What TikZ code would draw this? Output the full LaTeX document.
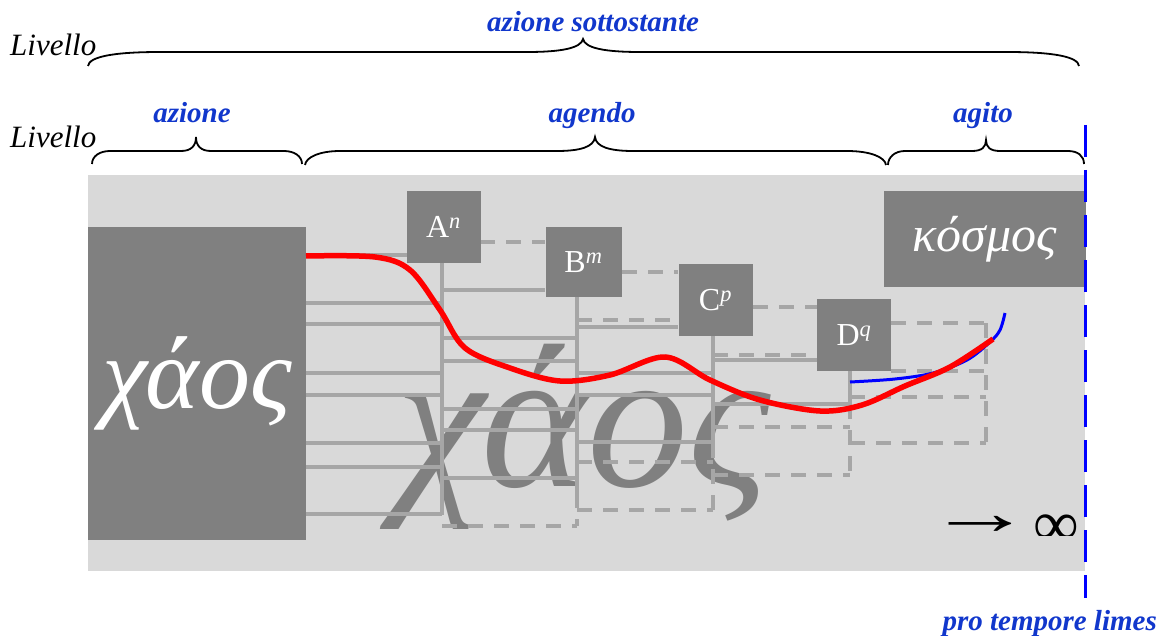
\documentclass[tikz,border=0pt]{standalone}
\usepackage{fontspec}
\setmainfont{Liberation Serif}
\definecolor{bggray}{RGB}{217,217,217}
\definecolor{boxgray}{RGB}{128,128,128}
\definecolor{linegray}{RGB}{166,166,166}
\definecolor{lblue}{RGB}{17,55,204}
\definecolor{pureblue}{RGB}{0,0,255}
\definecolor{purered}{RGB}{255,0,0}
\begin{document}
\begin{tikzpicture}[x=1pt,y=-1pt,
  gbox/.style={fill=boxgray,text=white,inner sep=0pt},
  gl/.style={draw=linegray,line width=3.5pt},
  gd/.style={gl,dash pattern=on 15pt off 11pt},
  lbl/.style={text=lblue,font=\fontsize{29}{34}\selectfont\bfseries\itshape,inner sep=0pt},
  livello/.style={font=\fontsize{31}{34}\selectfont\itshape,inner sep=0pt,anchor=base west},
  bracepath/.style={draw=black,line width=1.8pt},
  boxlbl/.style={font=\fontsize{32}{36}\selectfont}
]
\useasboundingbox (0,0) rectangle (1158,636);
\fill[bggray] (88,175) rectangle (1085,571);
\node[text=boxgray,font=\fontsize{202}{210}\selectfont\itshape,anchor=base,inner sep=0pt] (bigchaos) at (583,486) {χάος};
% bundle 1
\draw[gl] (306,255) -- (407,255);
\foreach \y in {303,324,373,395,443,467,514} \draw[gl] (306,\y) -- (442,\y);
\draw[gl] (442,263) -- (442,515);
% bundle 2
\draw[gd] (480,242) -- (545,242);
\draw[gl] (442,290) -- (545,290);
\foreach \y in {338,361,409,430,478} \draw[gl] (442,\y) -- (577,\y);
\draw[gd] (442,526) -- (577,526);
\draw[gl] (577,297) -- (577,493);
\draw[gd] (577,493) -- (577,526);
% bundle 3
\draw[gd] (622,272) -- (678,272);
\draw[gd] (577,320) -- (678,320);
\draw[gl] (577,327) -- (678,327);
\foreach \y in {373,395,442} \draw[gl] (577,\y) -- (713,\y);
\foreach \y in {462,510} \draw[gd] (577,\y) -- (713,\y);
\draw[gl] (713,336) -- (713,443);
\draw[gd] (713,443) -- (713,510);
% bundle 4
\draw[gd] (753,307) -- (817,307);
\draw[gl] (713,360) -- (817,360);
\draw[gd] (713,355) -- (817,355);
\draw[gl] (713,404) -- (850,404);
\foreach \y in {427,475} \draw[gd] (713,\y) -- (850,\y);
\draw[gl] (850,371) -- (850,404);
\draw[gd] (850,404) -- (850,475);
% bundle 5
\draw[gd] (891,323) -- (986,323);
\draw[gd] (891,371) -- (986,371);
\foreach \y in {397,443} \draw[gd] (850,\y) -- (986,\y);
\draw[gd] (986,323) -- (986,443);
% boxes
\node[gbox,minimum width=218pt,minimum height=313pt,font=\fontsize{102}{106}\selectfont\itshape] (chaos) at (197,383.5) {χάος};
\node[gbox,boxlbl,minimum width=74pt,minimum height=72pt] (A) at (443.5,227) {A\textsuperscript{\itshape n}};
\node[gbox,boxlbl,minimum width=76pt,minimum height=70pt] (B) at (583.5,262) {B\textsuperscript{\itshape m}};
\node[gbox,boxlbl,minimum width=74pt,minimum height=72pt] (C) at (715.5,300) {C\textsuperscript{\itshape p}};
\node[gbox,boxlbl,minimum width=74pt,minimum height=72pt] (D) at (854,335) {D\textsuperscript{\itshape q}};
\node[gbox,minimum width=202pt,minimum height=96pt,font=\fontsize{50}{54}\selectfont\itshape] (kosmos) at (985,239) {κόσμος};
% curves
\draw[pureblue,line width=3pt] plot[smooth,tension=0.55] coordinates {(850,382) (895,379) (933,373) (967,360) (990,342) (1000,330) (1005,313)};
\draw[purered,line width=5.5pt] plot[smooth,tension=0.55] coordinates {(306,256) (375,257) (410,270) (440,310) (465,348) (510,368) (560,381) (610,375) (665,357) (710,380) (760,400) (820,411) (862,405) (905,386) (950,367) (993,339)};
% limit line
\coordinate (limtop) at (1085,125);
\coordinate (limbot) at (1085,598);
\draw[pureblue,line width=3pt,dash pattern=on 32pt off 13pt] (limtop) -- (limbot);
% arrow and infinity
\node[font=\fontsize{64}{70}\selectfont,inner sep=0pt] (arr) at (980,525) {\scalebox{1.65}[1]{→}};
\begin{scope}
\clip (1020,490) rectangle (1084,535);
\node[font=\fontsize{64}{70}\selectfont,inner sep=0pt,anchor=base] (inf) at (1056,545) {∞};
\end{scope}
% labels
\node[livello] (liv1) at (10,56) {Livello};
\node[livello] (liv2) at (10,148) {Livello};
\node[lbl,anchor=base] (t0) at (593,32) {azione sottostante};
\node[lbl,anchor=base] (t1) at (192,123) {azione};
\node[lbl,anchor=base] (t2) at (592,123) {agendo};
\node[lbl,anchor=base] (t3) at (983,123) {agito};
\node[lbl,anchor=base east] (t4) at (1157,630) {pro tempore limes};
% braces
\draw[bracepath] (88,66) .. controls (89,57) and (112,52) .. (160,52) -- (527,52) .. controls (562,52) and (581,48) .. (583,39) .. controls (585,48) and (604,52) .. (640,52) -- (1007,52) .. controls (1055,52) and (1078,57) .. (1079,66);
\draw[bracepath] (92,164) .. controls (92,156) and (100,151) .. (110,151) -- (181,151) .. controls (191,151) and (196,146) .. (196,137) .. controls (196,146) and (201,151) .. (211,151) -- (284,151) .. controls (294,151) and (302,156) .. (302,164);
\draw[bracepath] (305,165) .. controls (306,157) and (320,151) .. (340,151) -- (557,151) .. controls (580,151) and (594,147) .. (595,137) .. controls (596,147) and (610,151) .. (633,151) -- (847,151) .. controls (870,151) and (885,157) .. (886,165);
\draw[bracepath] (888,165) .. controls (888,157) and (895,151) .. (905,151) -- (972,151) .. controls (982,151) and (986,147) .. (986,140) .. controls (986,147) and (990,151) .. (1000,151) -- (1068,151) .. controls (1078,151) and (1084,156) .. (1084,164);
\end{tikzpicture}
\end{document}
